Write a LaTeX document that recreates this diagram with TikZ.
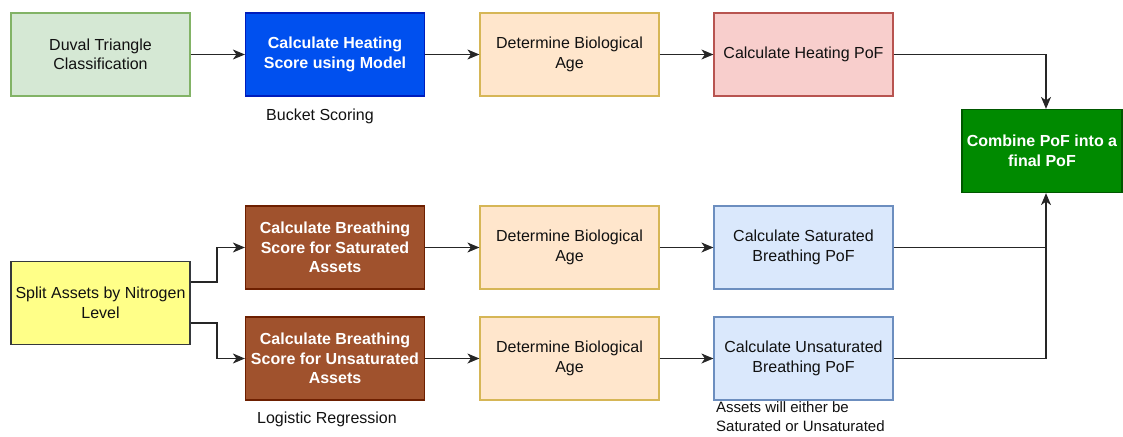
\documentclass[tikz,border=0pt]{standalone}
\usepackage{fontspec}
\setmainfont{Liberation Sans}
\usetikzlibrary{arrows.meta,positioning}
\definecolor{gfill}{HTML}{D5E8D4}\definecolor{gline}{HTML}{82B366}
\definecolor{bfill}{HTML}{0050EF}\definecolor{bline}{HTML}{001DBC}
\definecolor{ofill}{HTML}{FFE6CC}\definecolor{oline}{HTML}{D6B656}
\definecolor{rfill}{HTML}{F8CECC}\definecolor{rline}{HTML}{B85450}
\definecolor{dgfill}{HTML}{008A00}\definecolor{dgline}{HTML}{005700}
\definecolor{brfill}{HTML}{A0522D}\definecolor{brline}{HTML}{6D1F00}
\definecolor{yfill}{HTML}{FFFF88}\definecolor{yline}{HTML}{36393D}
\definecolor{lbfill}{HTML}{DAE8FC}\definecolor{lbline}{HTML}{6C8EBF}
\definecolor{txt}{HTML}{111111}
\tikzset{
  box/.style={draw, line width=1.2pt, minimum width=179pt, minimum height=83pt,
    inner sep=0pt, align=center, font=\fontsize{16}{19.5}\selectfont, text=txt},
  wbox/.style={box, text=white, font=\fontsize{16}{19.5}\selectfont\bfseries},
  lbl/.style={font=\fontsize{16}{20}\selectfont, text=txt, inner sep=0pt},
  arr/.style={draw=black!85, line width=1.3pt, -{Stealth[length=12pt,width=10pt,inset=3.5pt]}},
  ln/.style={draw=black!85, line width=1.3pt}
}
\begin{document}
\begin{tikzpicture}[x=1pt,y=-1pt]
\useasboundingbox (0,0) rectangle (1123,436);
% top row
\node[box, fill=gfill, draw=gline] (duval) at (100.5,54.5) {Duval Triangle\\Classification};
\node[wbox, fill=bfill, draw=bline] (heat) at (335,54.5) {Calculate Heating\\Score using Model};
\node[box, fill=ofill, draw=oline] (age1) at (569.5,54.5) {Determine Biological\\Age};
\node[box, fill=rfill, draw=rline] (hpof) at (803.5,54.5) {Calculate Heating PoF};
\node[wbox, fill=dgfill, draw=dgline, minimum width=160pt] (comb) at (1042,151) {Combine PoF into a\\final PoF};
% bottom rows
\node[box, fill=yfill, draw=yline] (split) at (100.5,303) {Split Assets by Nitrogen\\Level};
\node[wbox, fill=brfill, draw=brline] (bsat) at (335,247.5) {Calculate Breathing\\Score for Saturated\\Assets};
\node[wbox, fill=brfill, draw=brline] (bunsat) at (335,358.5) {Calculate Breathing\\Score for Unsaturated\\Assets};
\node[box, fill=ofill, draw=oline] (age2) at (569.5,247.5) {Determine Biological\\Age};
\node[box, fill=ofill, draw=oline] (age3) at (569.5,358.5) {Determine Biological\\Age};
\node[box, fill=lbfill, draw=lbline] (spof) at (803.5,247.5) {Calculate Saturated\\Breathing PoF};
\node[box, fill=lbfill, draw=lbline] (upof) at (803.5,358.5) {Calculate Unsaturated\\Breathing PoF};
% labels
\node[lbl] (bucket) at (320,116) {Bucket Scoring};
\node[lbl] (logit) at (327,419) {Logistic Regression};
\node[lbl, anchor=west, align=left, font=\fontsize{15}{19}\selectfont] (either) at (716,417) {Assets will either be\\Saturated or Unsaturated};
% connectors
\draw[arr] (duval) -- (heat);
\draw[arr] (heat) -- (age1);
\draw[arr] (age1) -- (hpof);
\coordinate (jx) at (1046,0);
\draw[arr] (hpof.east) -| (jx |- comb.north);
\draw[arr] (split.east |- 0,282) -- (217,282) |- (bsat.west);
\draw[arr] (split.east |- 0,323) -- (217,323) |- (bunsat.west);
\draw[arr] (bsat) -- (age2);
\draw[arr] (bunsat) -- (age3);
\draw[arr] (age2) -- (spof);
\draw[arr] (age3) -- (upof);
\draw[ln] (spof.east) -| (jx |- spof.east);
\draw[arr] (upof.east) -| (jx |- comb.south);
\end{tikzpicture}
\end{document}
